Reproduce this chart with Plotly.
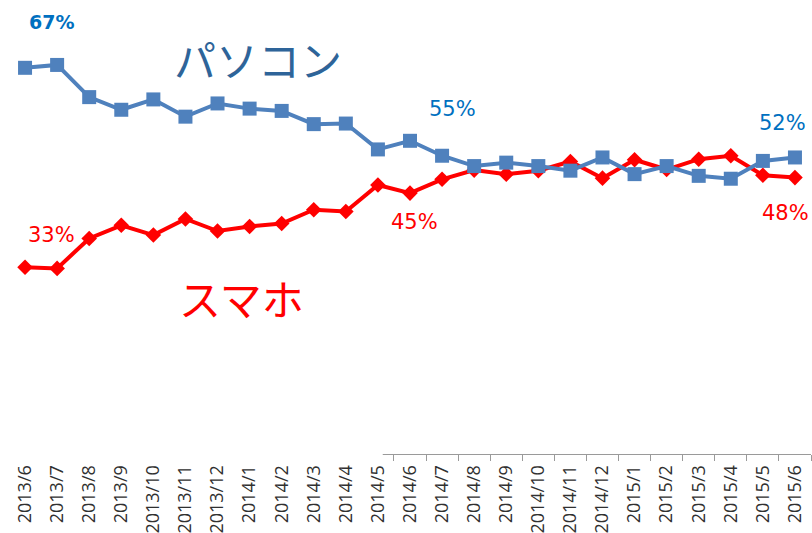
import plotly.graph_objects as go

months = ["2013/6", "2013/7", "2013/8", "2013/9", "2013/10", "2013/11", "2013/12",
          "2014/1", "2014/2", "2014/3", "2014/4", "2014/5", "2014/6", "2014/7",
          "2014/8", "2014/9", "2014/10", "2014/11", "2014/12", "2015/1", "2015/2",
          "2015/3", "2015/4", "2015/5", "2015/6"]
pc_share = [67.2, 67.7, 62.1, 59.9, 61.7, 58.7, 61.0, 60.1, 59.7, 57.4, 57.5, 53.0, 54.5,
            51.9, 50.1, 50.7, 50.1, 49.3, 51.6, 48.7, 50.1, 48.4, 47.9, 51.0, 51.6]
sp_share = [32.5, 32.3, 37.5, 39.8, 38.1, 40.9, 38.8, 39.6, 40.1, 42.5, 42.2, 46.8, 45.4,
            47.8, 49.4, 48.7, 49.3, 50.9, 48.0, 51.2, 49.5, 51.3, 51.9, 48.5, 48.1]

BLUE = "#4F81BD"
RED = "#FF0000"
LBL_BLUE = "#0070C0"

fig = go.Figure()
fig.add_trace(go.Scatter(x=months, y=sp_share, mode="lines+markers", name="スマホ",
                         line=dict(color=RED, width=4),
                         marker=dict(symbol="diamond", size=12, color=RED)))
fig.add_trace(go.Scatter(x=months, y=pc_share, mode="lines+markers", name="パソコン",
                         line=dict(color=BLUE, width=4),
                         marker=dict(symbol="square", size=14, color=BLUE)))

pct_font = "DejaVu Sans"
ann = [
    dict(text="<b>67%</b>", x=0.0524, y=0.9515, color=LBL_BLUE, size=19),
    dict(text="33%", x=0.0524, y=0.4824, color=RED, size=21),
    dict(text="55%", x=0.5536, y=0.7599, color=LBL_BLUE, size=21),
    dict(text="45%", x=0.505, y=0.511, color=RED, size=21),
    dict(text="52%", x=0.965, y=0.729, color=LBL_BLUE, size=21),
    dict(text="48%", x=0.9676, y=0.5308, color=RED, size=21),
]
annotations = [dict(text=a["text"], x=a["x"], y=a["y"], xref="paper", yref="paper",
                    xanchor="center", yanchor="middle", showarrow=False,
                    font=dict(family=pct_font, size=a["size"], color=a["color"]))
               for a in ann]
annotations.append(dict(text="パソコン", x=0.3105, y=0.872, xref="paper", yref="paper",
                        xanchor="center", yanchor="middle", showarrow=False,
                        font=dict(family="Noto Sans CJK JP", size=42, color="#2E6499")))
annotations.append(dict(text="スマホ", x=0.2893, y=0.345, xref="paper", yref="paper",
                        xanchor="center", yanchor="middle", showarrow=False,
                        font=dict(family="Noto Sans CJK JP", size=42, color=RED)))

fig.update_layout(
    width=812, height=533,
    margin=dict(l=9, r=1, t=0, b=79),
    paper_bgcolor="white", plot_bgcolor="white",
    showlegend=False,
    annotations=annotations,
    shapes=[dict(type="rect", xref="paper", yref="paper", x0=-0.02, x1=0.466,
                 y0=-0.017, y1=0.013, fillcolor="white", line=dict(width=0), layer="above")],
    xaxis=dict(type="category", range=[-0.5, 24.5], showgrid=False, zeroline=False,
               automargin=False,
               showline=True, linecolor="#9A9A9A", linewidth=1,
               ticks="outside", tickson="boundaries", ticklen=6, tickcolor="#9A9A9A",
               ticklabelstandoff=3,
               tickangle=-90, tickfont=dict(family="Open Sans", size=18, color="#303030")),
    yaxis=dict(range=[0, 79], visible=False, showgrid=False, zeroline=False, automargin=False),
)

fig.write_html("out.html", config={"displayModeBar": False},
               post_script="document.body.style.margin='0';document.body.style.padding='0';")
